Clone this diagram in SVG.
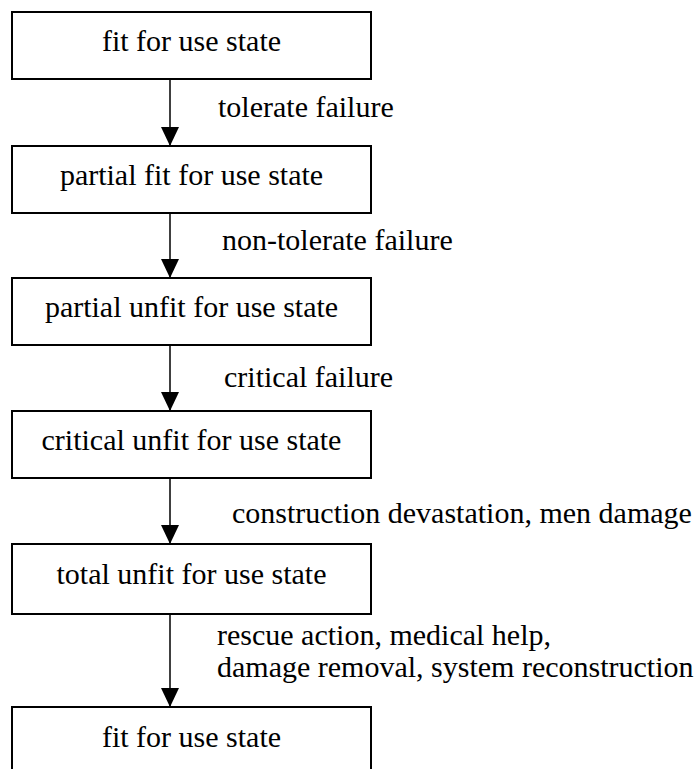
<svg xmlns="http://www.w3.org/2000/svg" width="699" height="769" viewBox="0 0 699 769">
<style>
.box{fill:#fff;stroke:#000;stroke-width:2}
.c{text-anchor:middle}
.edge{stroke:#000;stroke-width:1.5;fill:none;marker-end:url(#ah)}
</style>
<defs>
<marker id="ah" markerUnits="userSpaceOnUse" markerWidth="19" markerHeight="18" refX="19" refY="9" orient="auto" viewBox="0 0 19 18">
<path d="M0,0 L19,9 L0,18 Z" fill="#000"/>
</marker>
</defs>
<rect width="699" height="769" fill="#fff"/>
<g font-family="DejaVu Serif" font-size="30" fill="#000">
<g id="connectors">
<line class="edge" x1="170" y1="79" x2="170" y2="146"/>
<line class="edge" x1="170" y1="213" x2="170" y2="278"/>
<line class="edge" x1="170" y1="345" x2="170" y2="411"/>
<line class="edge" x1="170" y1="478" x2="170" y2="544"/>
<line class="edge" x1="170" y1="614" x2="170" y2="707"/>
<text x="218" y="117" font-family="Liberation Serif, serif">tolerate failure</text>
<text x="222" y="250" font-family="Liberation Serif, serif">non-tolerate failure</text>
<text x="224" y="387" font-family="Liberation Serif, serif">critical failure</text>
<text x="232" y="523" font-family="Liberation Serif, serif">construction devastation, men damage</text>
<text x="217" y="645" font-family="Liberation Serif, serif">rescue action, medical help,</text>
<text x="217" y="677" font-family="Liberation Serif, serif">damage removal, system reconstruction</text>
</g>
<g id="n1"><rect class="box" x="12" y="12" width="359" height="67"/><text class="c" x="191.5" y="51" font-family="Liberation Serif, serif">fit for use state</text></g>
<g id="n2"><rect class="box" x="12" y="146" width="359" height="67"/><text class="c" x="191.5" y="185" font-family="Liberation Serif, serif">partial fit for use state</text></g>
<g id="n3"><rect class="box" x="12" y="278" width="359" height="67"/><text class="c" x="191.5" y="317" font-family="Liberation Serif, serif">partial unfit for use state</text></g>
<g id="n4"><rect class="box" x="12" y="411" width="359" height="67"/><text class="c" x="191.5" y="450" font-family="Liberation Serif, serif">critical unfit for use state</text></g>
<g id="n5"><rect class="box" x="12" y="544" width="359" height="70"/><text class="c" x="191.5" y="584" font-family="Liberation Serif, serif">total unfit for use state</text></g>
<g id="n6"><rect class="box" x="12" y="707" width="359" height="80"/><text class="c" x="191.5" y="747" font-family="Liberation Serif, serif">fit for use state</text></g>
</g>
</svg>
